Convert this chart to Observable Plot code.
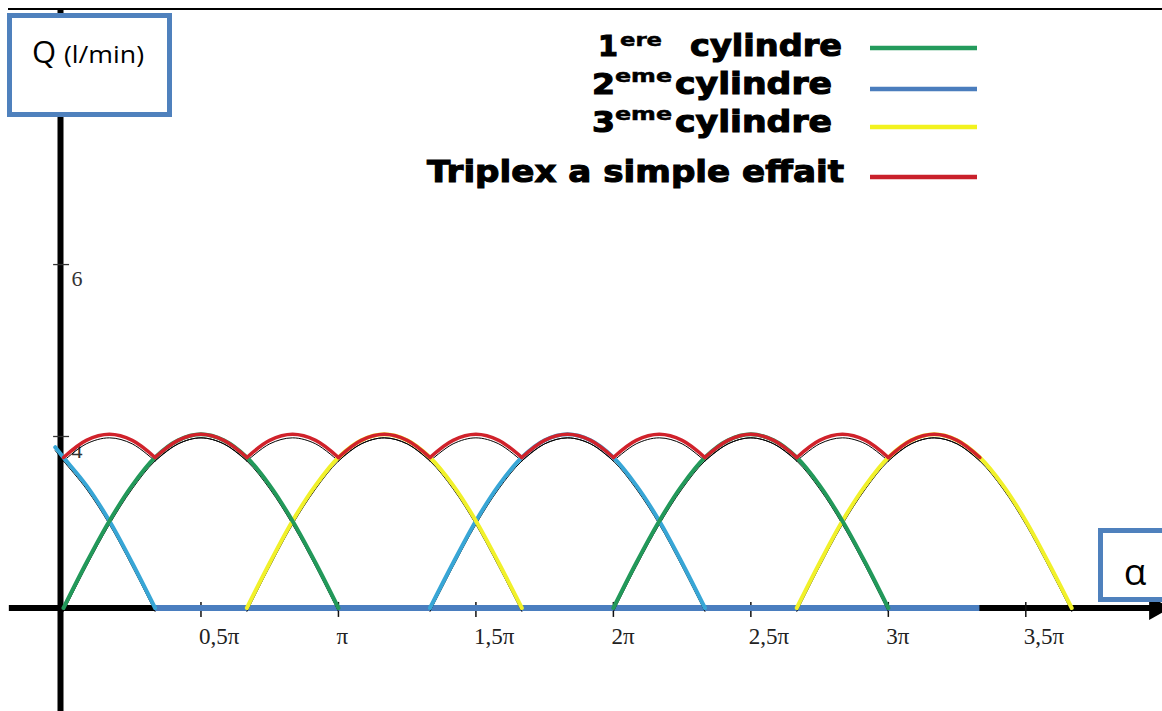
<!DOCTYPE html>
<html>
<head>
<meta charset="utf-8">
<script src="https://cdn.jsdelivr.net/npm/d3@7"></script>
<script src="https://cdn.jsdelivr.net/npm/@observablehq/plot@0.6"></script>
<style>
  html, body { margin: 0; padding: 0; background: #fff; }
  #chart { width: 1162px; height: 711px; overflow: hidden; }
</style>
</head>
<body>
<div id="chart"></div>
<script>
// ---- Axis ticks (angle in units of π, flow Q in l/min) ----
const xTickValues = [0.5, 1, 1.5, 2, 2.5, 3, 3.5];
const xTickLabels = ["0,5π", "π", "1,5π", "2π", "2,5π", "3π", "3,5π"];
// the reference's "6" graduation sits where 8 would be on the 0–4 spacing
const yTickPositions = [4, 8.01];
const yTickLabels = ["4", "6"];

// ---- Series: [angle (×π), Q] ----
// 1ère cylindre (green)
const cyl1Hump1 = [[0,0],[0.083,1.05],[0.167,2.03],[0.25,2.86],[0.333,3.51],[0.417,3.91],[0.5,4.05],[0.583,3.91],[0.667,3.51],[0.75,2.86],[0.833,2.03],[0.917,1.05],[1,0]];
const cyl1Hump2 = [[2,0],[2.083,1.05],[2.167,2.03],[2.25,2.86],[2.333,3.51],[2.417,3.91],[2.5,4.05],[2.583,3.91],[2.667,3.51],[2.75,2.86],[2.833,2.03],[2.917,1.05],[3,0]];
// 2ème cylindre (blue)
const cyl2Hump1 = [[-0.03,3.75],[0,3.51],[0.083,2.86],[0.167,2.03],[0.25,1.05],[0.333,0]];
const cyl2Hump2 = [[1.333,0],[1.417,1.05],[1.5,2.03],[1.583,2.86],[1.667,3.51],[1.75,3.91],[1.833,4.05],[1.917,3.91],[2,3.51],[2.083,2.86],[2.167,2.03],[2.25,1.05],[2.333,0]];
const cyl2ZeroSpan = [0.333, 3.333];
// 3ème cylindre (yellow)
const cyl3Hump1 = [[0.667,0],[0.75,1.05],[0.833,2.03],[0.917,2.86],[1,3.51],[1.083,3.91],[1.167,4.05],[1.25,3.91],[1.333,3.51],[1.417,2.86],[1.5,2.03],[1.583,1.05],[1.667,0]];
const cyl3Hump2 = [[2.667,0],[2.75,1.05],[2.833,2.03],[2.917,2.86],[3,3.51],[3.083,3.91],[3.167,4.05],[3.25,3.91],[3.333,3.51],[3.417,2.86],[3.5,2.03],[3.583,1.05],[3.667,0]];
// Triplex à simple effet (red), one arc between two cusps
const triplexArcs = [
  [[0,3.51],[0.083,3.91],[0.167,4.05],[0.25,3.91],[0.333,3.51]],
  [[0.333,3.51],[0.417,3.91],[0.5,4.05],[0.583,3.91],[0.667,3.51]],
  [[0.667,3.51],[0.75,3.91],[0.833,4.05],[0.917,3.91],[1,3.51]],
  [[1,3.51],[1.083,3.91],[1.167,4.05],[1.25,3.91],[1.333,3.51]],
  [[1.333,3.51],[1.417,3.91],[1.5,4.05],[1.583,3.91],[1.667,3.51]],
  [[1.667,3.51],[1.75,3.91],[1.833,4.05],[1.917,3.91],[2,3.51]],
  [[2,3.51],[2.083,3.91],[2.167,4.05],[2.25,3.91],[2.333,3.51]],
  [[2.333,3.51],[2.417,3.91],[2.5,4.05],[2.583,3.91],[2.667,3.51]],
  [[2.667,3.51],[2.75,3.91],[2.833,4.05],[2.917,3.91],[3,3.51]],
  [[3,3.51],[3.083,3.91],[3.167,4.05],[3.25,3.91],[3.333,3.51]]
];

// Axis extents (in data units)
const xAxisExtent = [-0.197, 3.955];
const arrowTip = [3.974];
const yAxisExtent = [-2.42, 13.96];

// Legend
const legendNames = ["cylindre", "cylindre", "cylindre", "Triplex a simple effait"];
const legendOrdinals = ["1", "2", "3"];
const legendSup = ["ere", "eme", "eme"];
const legendColors = ["#249b5c", "#4a7dbd", "#f2f21e", "#c9202b"];

// ---- Build tables ----
function rows(segments, name) {
  const out = [];
  segments.forEach((seg, k) => seg.forEach(([a, q]) => out.push({series: name, seg: name + k, a, q})));
  return out;
}
const green = rows([cyl1Hump1, cyl1Hump2], "c1");
const blue = rows([cyl2Hump1, cyl2Hump2], "c2");
const yellow = rows([cyl3Hump1, cyl3Hump2], "c3");
const red = rows(triplexArcs, "t");
const all = [...blue, ...yellow, ...green, ...red];

const curveColors = {c1: "#22995a", c2: "#38a6d6", c3: "#f1f12a", t: "#d0222b"};

const plot = Plot.plot({
  width: 1162,
  height: 711,
  margin: 0,
  x: {domain: [0, 3.5], range: [63, 1025.3], axis: null},
  y: {domain: [0, 4], range: [607.5, 436], axis: null},
  marks: [
    // axes
    Plot.ruleY([0], {x1: xAxisExtent[0], x2: xAxisExtent[1], stroke: "black", strokeWidth: 6}),
    Plot.dot(arrowTip, {x: d => d, y: 0, symbol: "triangle", r: 9, rotate: 90, fill: "black", stroke: "none"}),
    Plot.ruleX([0], {y1: yAxisExtent[0], y2: yAxisExtent[1], stroke: "black", strokeWidth: 6, dx: -3}),
    Plot.ruleY(yTickPositions, {x1: -0.036, x2: 0.022, stroke: "#333", strokeWidth: 1.3}),
    Plot.text(yTickPositions, {x: 0, y: d => d, text: (d, i) => yTickLabels[i], textAnchor: "start", dx: 8, dy: 14, fontSize: 22, fontFamily: "Liberation Serif", fill: "#333"}),
    Plot.ruleX(xTickValues, {y1: -0.22, y2: 0.13, stroke: "#111", strokeWidth: 1.5}),
    Plot.text(xTickValues, {x: d => d, y: 0, text: (d, i) => xTickLabels[i], textAnchor: "start", dx: -2, dy: 29, fontSize: 23, fontFamily: "Liberation Serif", fill: "#222"}),
    // cylinder 2 at zero
    Plot.ruleY([0], {x1: cyl2ZeroSpan[0], x2: cyl2ZeroSpan[1], stroke: "#4a7ebf", strokeWidth: 6}),
    // thin black traces
    Plot.line(all, {x: "a", y: "q", z: "seg", stroke: "black", strokeWidth: 1, dy: 3.5, curve: "catmull-rom"}),
    // coloured curves
    Plot.line(blue, {x: "a", y: "q", z: "seg", stroke: curveColors.c2, strokeWidth: 4, curve: "catmull-rom"}),
    Plot.line(yellow, {x: "a", y: "q", z: "seg", stroke: curveColors.c3, strokeWidth: 4, curve: "catmull-rom"}),
    Plot.line(green, {x: "a", y: "q", z: "seg", stroke: curveColors.c1, strokeWidth: 4, curve: "catmull-rom"}),
    Plot.line(red, {x: "a", y: "q", z: "seg", stroke: curveColors.t, strokeWidth: 3.5, curve: "catmull-rom"})
  ]
});

document.getElementById("chart").appendChild(plot);

// ---- Decorations: frame line, boxes, legend ----
const svg = d3.select(plot);
svg.append("line").attr("x1", 8).attr("x2", 1162).attr("y1", 9).attr("y2", 9)
  .attr("stroke", "black").attr("stroke-width", 2);

// Q box
svg.append("rect").attr("x", 9.5).attr("y", 15.5).attr("width", 160).attr("height", 99)
  .attr("fill", "white").attr("stroke", "#4f81bd").attr("stroke-width", 5);
svg.append("text").attr("x", 32).attr("y", 63).attr("text-anchor", "start").attr("font-family", "Open Sans").attr("font-size", 31)
  .attr("fill", "black").text("Q");
svg.append("text").attr("x", 64).attr("y", 63).attr("text-anchor", "start").attr("font-family", "Open Sans").attr("font-size", 24)
  .attr("fill", "black").attr("textLength", 80).attr("lengthAdjust", "spacingAndGlyphs").text("(l/min)");

// alpha box
svg.append("rect").attr("x", 1100.5).attr("y", 530.5).attr("width", 80).attr("height", 69)
  .attr("fill", "white").attr("stroke", "#4f81bd").attr("stroke-width", 5);
svg.append("text").attr("x", 1135).attr("y", 585).attr("text-anchor", "middle")
  .attr("font-family", "Open Sans").attr("font-size", 37).attr("fill", "black").text("α");

// legend
const lg = svg.append("g").attr("font-family", "DejaVu Sans").attr("font-weight", "bold")
  .attr("text-anchor", "start")
  .attr("fill", "black").attr("stroke", "black").attr("stroke-width", 1.1);
const baselines = [55.7, 94, 132.3, 181.7];
const nameX = [[690, 152], [675, 157], [675, 157], [427, 417]];
const ordX = [[598, 20], [592, 23], [592, 23]];
const supX = [[620, 42, 45.7], [615, 57, 81.7], [615, 57, 120]];
const lineY = [48, 89, 127, 177];
legendNames.forEach((n, i) => {
  lg.append("text").attr("x", nameX[i][0]).attr("y", baselines[i]).attr("font-size", i === 3 ? 31 : 30)
    .attr("textLength", nameX[i][1]).attr("lengthAdjust", "spacingAndGlyphs").text(n);
  if (i < 3) {
    lg.append("text").attr("x", ordX[i][0]).attr("y", baselines[i]).attr("font-size", 29)
      .attr("textLength", ordX[i][1]).attr("lengthAdjust", "spacingAndGlyphs").text(legendOrdinals[i]);
    lg.append("text").attr("x", supX[i][0]).attr("y", supX[i][2]).attr("font-size", 18)
      .attr("stroke-width", 0.5)
      .attr("textLength", supX[i][1]).attr("lengthAdjust", "spacingAndGlyphs").text(legendSup[i]);
  }
  svg.append("line").attr("x1", 870).attr("x2", 977).attr("y1", lineY[i]).attr("y2", lineY[i])
    .attr("stroke", legendColors[i]).attr("stroke-width", 4.5);
});
</script>
</body>
</html>
